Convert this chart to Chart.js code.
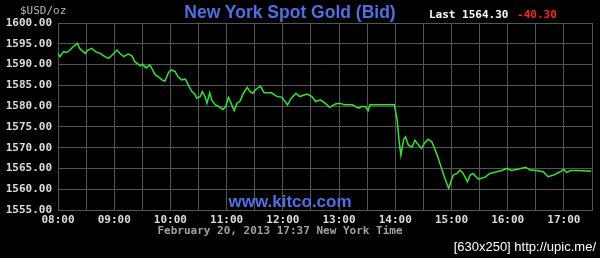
<!DOCTYPE html>
<html lang="en">
<head>
    <meta charset="UTF-8">
    <title>New York Spot Gold (Bid)</title>
    <script src="https://cdn.jsdelivr.net/npm/chart.js"></script>
    <style>
        body { margin: 0; background: #000; }
        #wrap { position: relative; width: 600px; height: 258px; overflow: hidden; }
        .t { position: absolute; white-space: nowrap; }
        .mono { font-family: 'DejaVu Sans Mono', monospace; font-weight: bold; font-size: 11px; line-height: 14px; }
    </style>
</head>
<body>
<div id="wrap">
    <canvas id="myChart" width="600" height="258"></canvas>
    <div class="t mono" style="left:20px;top:4px;color:#b8b8b8;font-weight:normal;">$USD/oz</div>
    <div class="t" style="left:150px;width:280px;top:2px;text-align:center;font:bold 17.5px 'Liberation Sans',Arial,sans-serif;line-height:21px;color:#4d70e6;">New York Spot Gold (Bid)</div>
    <div class="t mono" style="left:429px;top:8px;color:#fff;">Last 1564.30 <span style="color:#ff2020;margin-left:2px;">-40.30</span></div>
    <div class="t" style="left:190px;width:200px;top:192px;text-align:center;font:bold 17px 'Liberation Sans',Arial,sans-serif;line-height:20px;color:#4d70e6;">www.kitco.com</div>
    <div class="t mono" style="left:100px;width:360px;top:224px;text-align:center;color:#a0a0a0;">February 20, 2013 17:37 New York Time</div>
    <div class="t" style="left:420px;width:176px;top:239px;text-align:right;font:13px 'Liberation Sans Narrow','Liberation Sans',sans-serif;line-height:16px;color:#fff;">[630x250] http://upic.me/</div>
</div>
<script>
    // minutes after 08:00 New York time
    const minutes = [0, 2, 6, 9, 13, 16, 21, 23, 29, 32, 36, 40, 45, 50, 54, 57, 63, 66, 70, 75,
        79, 82, 88, 90, 94, 98, 104, 107, 111, 114, 118, 121, 125, 128, 132, 136, 139, 143, 146, 148,
        152, 154, 157, 159, 162, 164, 168, 171, 176, 179, 182, 184, 188, 191, 194, 198, 202, 205, 208, 211,
        216, 220, 228, 233, 239, 245, 249, 254, 258, 266, 271, 275, 280, 285, 290, 296, 301, 306, 314, 321,
        324, 328, 331, 333, 342, 353, 359, 362, 364, 366, 369, 371, 374, 378, 381, 385, 388, 391, 395, 399,
        402, 406, 410, 413, 417, 420, 422, 426, 429, 432, 437, 440, 443, 446, 449, 456, 461, 465, 468, 474,
        479, 484, 491, 499, 504, 511, 518, 523, 529, 536, 540, 543, 547, 556, 569];
    const bid = [1592.7, 1591.9, 1593.1, 1592.9, 1593.5, 1594.3, 1595.1, 1593.9, 1592.7, 1593.5, 1593.9, 1593.1, 1592.7, 1591.9, 1591.5, 1592.1, 1593.5, 1592.7, 1591.9, 1592.5,
        1592.1, 1590.7, 1589.7, 1590.1, 1589.2, 1589.9, 1587.5, 1587.1, 1586.3, 1586.0, 1588.1, 1588.7, 1588.3, 1587.1, 1586.3, 1586.5, 1585.1, 1583.5, 1582.9, 1581.9,
        1582.3, 1583.5, 1582.3, 1580.7, 1583.2, 1581.5, 1580.3, 1580.0, 1579.2, 1579.9, 1582.1, 1581.1, 1578.9, 1580.7, 1581.1, 1583.1, 1584.5, 1583.5, 1583.1, 1584.0,
        1584.8, 1583.2, 1583.2, 1582.4, 1582.1, 1580.3, 1581.9, 1583.1, 1582.3, 1582.9, 1582.3, 1581.1, 1581.5, 1580.7, 1579.7, 1580.5, 1580.7, 1580.3, 1580.3, 1579.5,
        1579.9, 1579.9, 1578.9, 1580.3, 1580.3, 1580.3, 1580.3, 1576.7, 1571.8, 1568.2, 1572.0, 1572.6, 1570.6, 1570.1, 1571.8, 1570.6, 1569.8, 1571.0, 1572.0, 1571.4,
        1569.8, 1567.4, 1564.6, 1562.6, 1560.2, 1562.2, 1563.4, 1563.8, 1564.6, 1564.0, 1561.8, 1563.4, 1563.8, 1563.0, 1562.4, 1562.9, 1563.8, 1564.0, 1564.2, 1564.5,
        1565.0, 1564.5, 1564.8, 1565.3, 1564.6, 1564.5, 1564.2, 1563.0, 1563.4, 1564.2, 1564.8, 1564.0, 1564.5, 1564.5, 1564.3];
    const hourLabels = ['08:00', '09:00', '10:00', '11:00', '12:00', '13:00', '14:00', '15:00', '16:00', '17:00'];

    const gridColor = '#555555';
    const tickFont = { family: 'DejaVu Sans Mono', size: 11, weight: 'bold' };

    const ctx = document.getElementById('myChart').getContext('2d');
    const chart = new Chart(ctx, {
        type: 'line',
        data: {
            datasets: [{
                label: 'Bid',
                data: minutes.map((m, i) => ({ x: m, y: bid[i] })),
                borderColor: '#2fe62f',
                borderWidth: 1.5,
                pointRadius: 0,
                tension: 0
            }]
        },
        options: {
            responsive: false,
            animation: false,
            layout: { padding: { left: 0, top: 23, right: 8, bottom: 26 } },
            scales: {
                x: {
                    type: 'linear',
                    min: 0,
                    max: 570,
                    grid: { color: gridColor, drawTicks: false },
                    border: { color: gridColor },
                    afterFit: scale => { scale.height = 22; },
                    ticks: {
                        stepSize: 30,
                        autoSkip: false,
                        maxRotation: 0,
                        padding: 4,
                        color: '#dddddd',
                        font: tickFont,
                        callback: v => v % 60 === 0 ? hourLabels[v / 60] : ''
                    }
                },
                y: {
                    min: 1555,
                    max: 1600,
                    grid: { color: gridColor, drawTicks: false },
                    border: { color: gridColor },
                    afterFit: scale => { scale.width = 58; },
                    ticks: {
                        stepSize: 5,
                        padding: 6,
                        color: '#dddddd',
                        font: tickFont,
                        callback: v => v.toFixed(2)
                    }
                }
            },
            plugins: {
                legend: { display: false },
                tooltip: { enabled: false }
            }
        }
    });
</script>
</body>
</html>
